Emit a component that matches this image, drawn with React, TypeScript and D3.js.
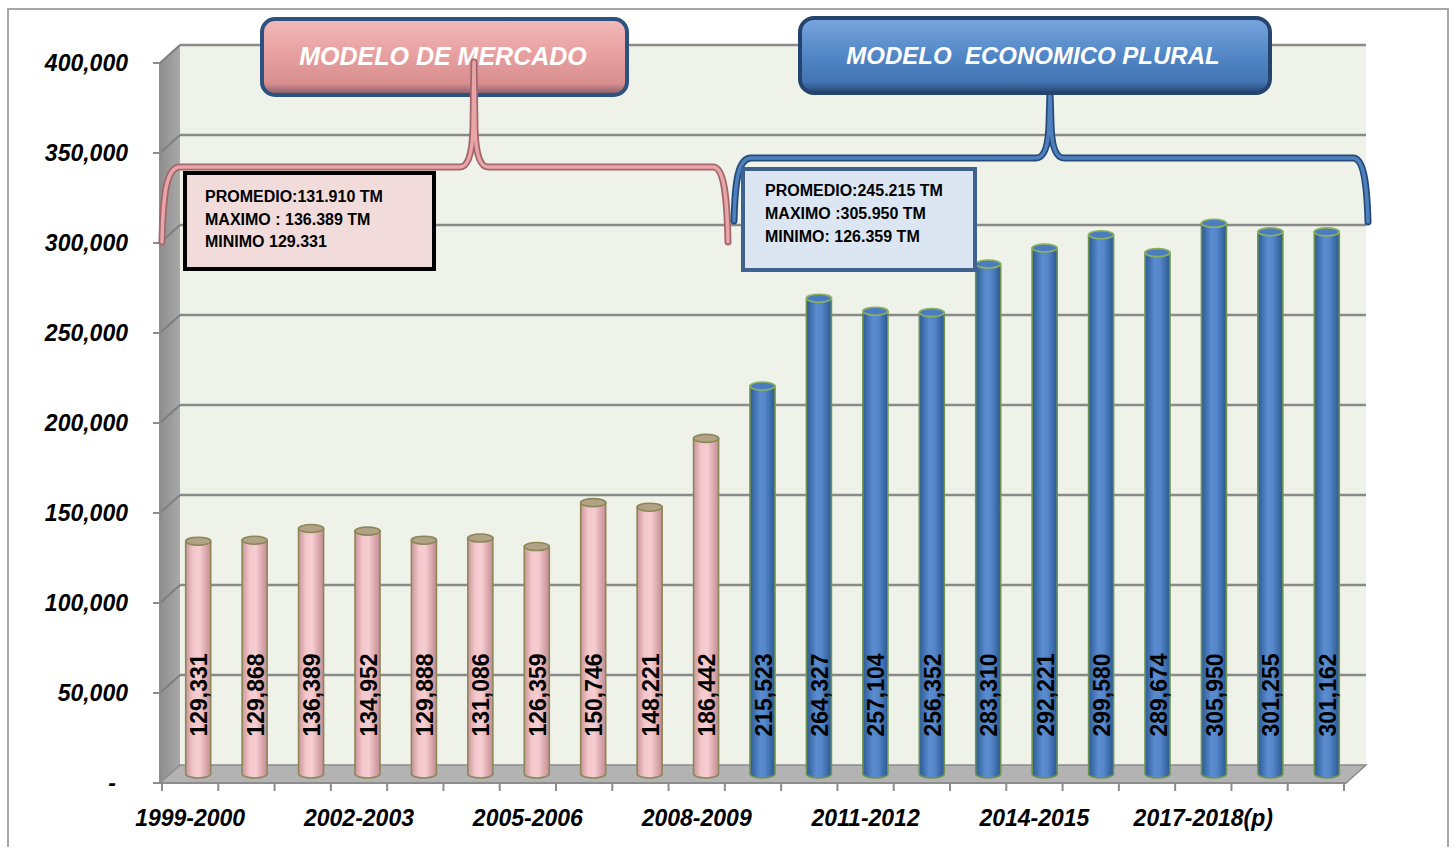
import React from "react";
import * as d3 from "d3";

const categories = [
  "1999-2000", "2000-2001", "2001-2002", "2002-2003", "2003-2004", "2004-2005",
  "2005-2006", "2006-2007", "2007-2008", "2008-2009", "2009-2010", "2010-2011",
  "2011-2012", "2012-2013", "2013-2014", "2014-2015", "2015-2016", "2016-2017",
  "2017-2018(p)", "2018-2019(p)", "2019-2020(p)",
];
const values = [
  129331, 129868, 136389, 134952, 129888, 131086, 126359, 150746, 148221, 186442,
  215523, 264327, 257104, 256352, 283310, 292221, 299580, 289674, 305950, 301255, 301162,
];
// 0 = Modelo de mercado, 1 = Modelo economico plural
const model = [0, 0, 0, 0, 0, 0, 0, 0, 0, 0, 1, 1, 1, 1, 1, 1, 1, 1, 1, 1, 1];
const yTicks = [0, 50000, 100000, 150000, 200000, 250000, 300000, 350000, 400000];
const titleMercado = "MODELO DE MERCADO";
const titlePlural = "MODELO  ECONOMICO PLURAL";
const infoMercado = ["PROMEDIO:131.910 TM", "MAXIMO : 136.389 TM", "MINIMO 129.331"];
const infoPlural = ["PROMEDIO:245.215 TM", "MAXIMO :305.950 TM", "MINIMO: 126.359 TM"];

const FONT = "'Liberation Sans', Arial, sans-serif";

export default function App() {
  const W = 1456, H = 847;
  const frontL = 160, frontR = 1346;
  const dx = 20, dy = -18;
  const y = d3.scaleLinear().domain([0, 400000]).range([783, 63]);
  const x = d3.scaleBand().domain(categories).range([162, 1344]).padding(0);
  const xBar = d3.scaleBand().domain(categories).range([170, 1355]).padding(0);
  const fmt = d3.format(",");
  const r = 12.5;
  const ry = 4;
  const barBottom = y(0) + dy / 2;
  const labelCenter = 695;

  const backL = frontL + dx, backR = frontR + dx;

  const bracePink =
    "M162,242 C163,196 166,167 180,167 L460,167 Q472,167 473,128 L474,62 L475,128 Q476,167 488,167 L713,167 C724,167 727,196 728,242";
  const braceBlue =
    "M734,221 C735,182 738,158 751,158 L1036,158 Q1048,158 1049,124 L1050,92 L1051,124 Q1052,158 1064,158 L1353,158 C1364,158 1367,186 1368,222";

  return (
    <svg width={W} height={H} style={{ position: "absolute", left: 0, top: 0, background: "#fff" }}>
      <defs>
        <linearGradient id="gPink" x1="0" x2="1" y1="0" y2="0">
          <stop offset="0" stopColor="#C9959A" />
          <stop offset="0.3" stopColor="#F4C8CC" />
          <stop offset="0.55" stopColor="#F6CDD1" />
          <stop offset="1" stopColor="#C48C92" />
        </linearGradient>
        <linearGradient id="gBlue" x1="0" x2="1" y1="0" y2="0">
          <stop offset="0" stopColor="#2C5A96" />
          <stop offset="0.4" stopColor="#5A8CCF" />
          <stop offset="0.6" stopColor="#5587CA" />
          <stop offset="1" stopColor="#2B5894" />
        </linearGradient>
        <linearGradient id="gTitlePink" x1="0" x2="0" y1="0" y2="1">
          <stop offset="0" stopColor="#F2B9B9" />
          <stop offset="0.5" stopColor="#E69E9E" />
          <stop offset="0.85" stopColor="#D88E8E" />
          <stop offset="1" stopColor="#7E5A66" />
        </linearGradient>
        <linearGradient id="gTitleBlue" x1="0" x2="0" y1="0" y2="1">
          <stop offset="0" stopColor="#7AA6DE" />
          <stop offset="0.5" stopColor="#5286C6" />
          <stop offset="0.85" stopColor="#4374B3" />
          <stop offset="1" stopColor="#26466F" />
        </linearGradient>
        <linearGradient id="gSide" x1="0" x2="1" y1="0" y2="0">
          <stop offset="0" stopColor="#8E8E8E" />
          <stop offset="1" stopColor="#A9A9A9" />
        </linearGradient>
      </defs>

      {/* outer frame */}
      <rect x={8} y={9} width={1440} height={860} fill="#fff" stroke="#A6A6A6" strokeWidth={2} />

      {/* back wall */}
      <rect x={backL} y={y(400000) + dy} width={backR - backL} height={y(0) - y(400000)} fill="#EEF2E8" />
      {/* side wall */}
      <polygon
        points={`${frontL},${y(400000)} ${backL},${y(400000) + dy} ${backL},${y(0) + dy} ${frontL},${y(0)}`}
        fill="url(#gSide)"
      />
      {/* floor */}
      <polygon
        points={`${frontL},${y(0)} ${backL},${y(0) + dy} ${backR},${y(0) + dy} ${frontR},${y(0)}`}
        fill="#B3B3B3"
        stroke="#8C8C8C"
        strokeWidth={1.5}
      />

      {/* gridlines */}
      {yTicks.filter((t) => t > 0).map((t) => (
        <g key={"g" + t}>
          <line x1={backL} x2={backR} y1={y(t) + dy} y2={y(t) + dy} stroke="#8A8A8A" strokeWidth={2.5} />
          <line x1={frontL} x2={backL} y1={y(t)} y2={y(t) + dy} stroke="#7E7E7E" strokeWidth={2} />
        </g>
      ))}

      {/* y axis */}
      <line x1={frontL} x2={frontL} y1={y(400000)} y2={y(0)} stroke="#8C8C8C" strokeWidth={2} />
      {yTicks.map((t) => (
        <g key={"yt" + t}>
          <line x1={153} x2={frontL} y1={y(t)} y2={y(t)} stroke="#8C8C8C" strokeWidth={2} />
          <text
            x={t === 0 ? 116 : 128}
            y={y(t) + 8}
            textAnchor="end"
            fontFamily={FONT}
            fontWeight="bold"
            fontStyle="italic"
            fontSize={23}
            fill="#000"
          >
            {t === 0 ? "-" : fmt(t)}
          </text>
        </g>
      ))}

      {/* x axis */}
      <line x1={frontL} x2={frontR} y1={y(0)} y2={y(0)} stroke="#8C8C8C" strokeWidth={2} />
      {categories.map((c) => (
        <line key={"xt" + c} x1={x(c)!} x2={x(c)!} y1={y(0)} y2={y(0) + 8} stroke="#8C8C8C" strokeWidth={2} />
      ))}
      <line x1={x.range()[1]} x2={x.range()[1]} y1={y(0)} y2={y(0) + 8} stroke="#8C8C8C" strokeWidth={2} />
      {categories.map((c, i) =>
        i % 3 === 0 ? (
          <text
            key={"xl" + c}
            x={x(c)! + x.bandwidth() / 2}
            y={826}
            textAnchor="middle"
            fontFamily={FONT}
            fontWeight="bold"
            fontStyle="italic"
            fontSize={23}
            fill="#000"
          >
            {c}
          </text>
        ) : null
      )}

      {/* bars */}
      {categories.map((c, i) => {
        const cx = xBar(c)! + xBar.bandwidth() / 2;
        const top = y(values[i]) + dy / 2;
        const blue = model[i] === 1;
        const body = `M${cx - r},${top} L${cx - r},${barBottom} A${r},${ry} 0 0 0 ${cx + r},${barBottom} L${cx + r},${top} Z`;
        return (
          <g key={"b" + c}>
            <path d={body} fill={blue ? "url(#gBlue)" : "url(#gPink)"} stroke={blue ? "#6F9450" : "#8C8759"} strokeWidth={1.6} />
            <ellipse
              cx={cx}
              cy={top}
              rx={r}
              ry={ry}
              fill={blue ? "#4A7CBF" : "#B3A386"}
              stroke={blue ? "#8DB25C" : "#8C8759"}
              strokeWidth={1.6}
            />
            <text
              transform={`translate(${cx + 1},${labelCenter}) rotate(-90)`}
              textAnchor="middle"
              dominantBaseline="central"
              fontFamily={FONT}
              fontWeight="bold"
              fontSize={23}
              fill="#000"
            >
              {fmt(values[i])}
            </text>
          </g>
        );
      })}

      {/* title box: mercado */}
      <rect x={262} y={19} width={365} height={76} rx={13} fill="url(#gTitlePink)" stroke="#2E527F" strokeWidth={4} />
      <text x={443} y={65} textAnchor="middle" fontFamily={FONT} fontWeight="bold" fontStyle="italic" fontSize={25} fill="#fff">
        {titleMercado}
      </text>
      {/* brace pink */}
      <path d={bracePink} fill="none" stroke="#A2666B" strokeWidth={7} strokeLinejoin="round" strokeLinecap="round" />
      <path d={bracePink} fill="none" stroke="#E8A6A9" strokeWidth={3.5} strokeLinejoin="round" strokeLinecap="round" />

      {/* brace blue */}
      <path d={braceBlue} fill="none" stroke="#264B7B" strokeWidth={7} strokeLinejoin="round" strokeLinecap="round" />
      <path d={braceBlue} fill="none" stroke="#4E80BE" strokeWidth={3.5} strokeLinejoin="round" strokeLinecap="round" />
      {/* title box: plural */}
      <rect x={800} y={18} width={470} height={75} rx={14} fill="url(#gTitleBlue)" stroke="#24446E" strokeWidth={4} />
      <text
        x={1033}
        y={64}
        textAnchor="middle"
        fontFamily={FONT}
        fontWeight="bold"
        fontStyle="italic"
        fontSize={24}
        fill="#fff"
        style={{ whiteSpace: "pre" }}
      >
        {titlePlural}
      </text>

      {/* info boxes */}
      <rect x={185} y={173} width={249} height={96} fill="#F2DCDB" stroke="#000" strokeWidth={4} />
      {infoMercado.map((t, i) => (
        <text key={"im" + i} x={205} y={202 + i * 22.5} fontFamily={FONT} fontWeight="bold" fontSize={16} fill="#000">
          {t}
        </text>
      ))}
      <rect x={743} y={169} width={232} height={101} fill="#DCE6F2" stroke="#3F6391" strokeWidth={4} />
      {infoPlural.map((t, i) => (
        <text key={"ip" + i} x={765} y={196 + i * 23} fontFamily={FONT} fontWeight="bold" fontSize={16} fill="#000">
          {t}
        </text>
      ))}
    </svg>
  );
}
